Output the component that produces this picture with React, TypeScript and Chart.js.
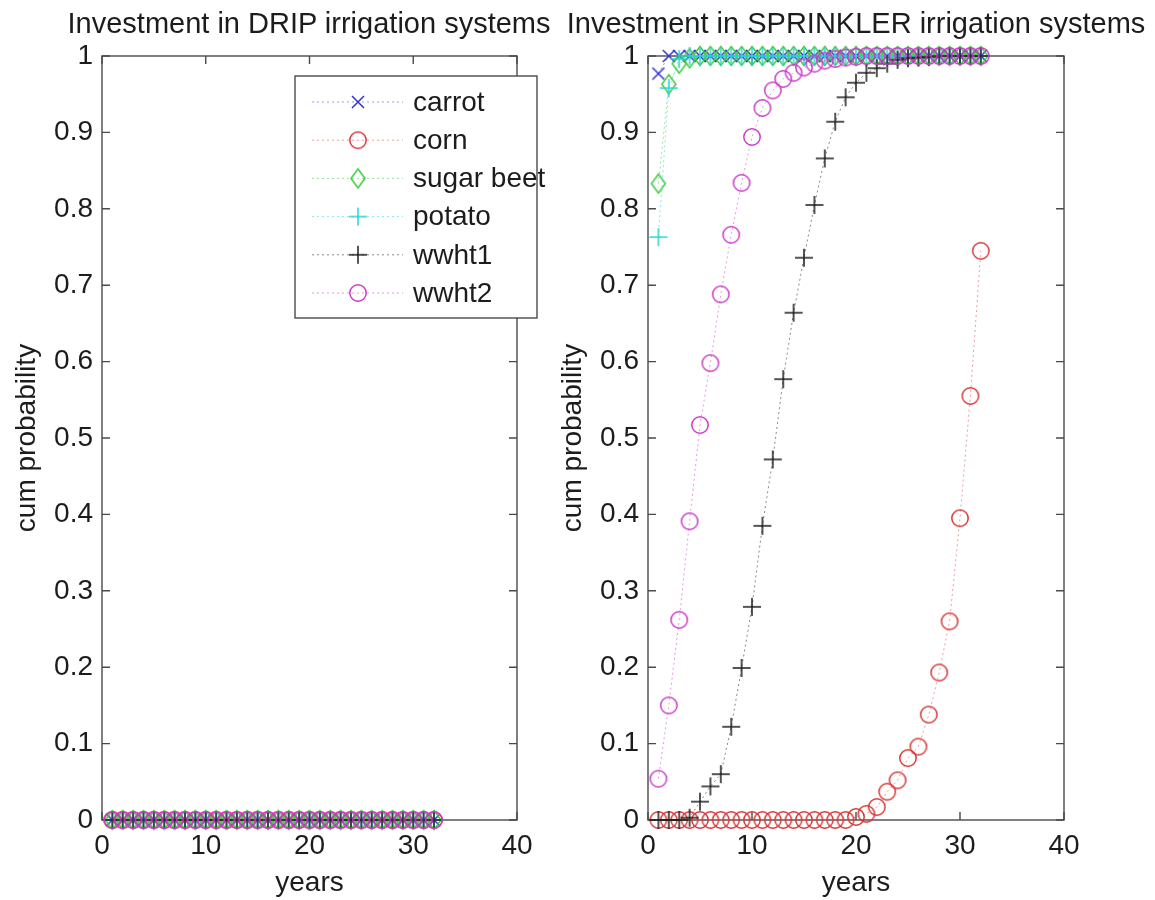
import React, { useEffect, useRef } from "react";
import { Chart, registerables } from "chart.js";

Chart.register(...registerables);

const FONT = "'Liberation Sans', Arial, Helvetica, sans-serif";

// ---------- data ----------
const years = [1, 2, 3, 4, 5, 6, 7, 8, 9, 10, 11, 12, 13, 14, 15, 16, 17, 18, 19, 20, 21, 22, 23, 24, 25, 26, 27, 28, 29, 30, 31, 32];

const seriesNames = ["carrot", "corn", "sugar beet", "potato", "wwht1", "wwht2"];

// DRIP: every crop stays at 0
const dripCarrot = [0, 0, 0, 0, 0, 0, 0, 0, 0, 0, 0, 0, 0, 0, 0, 0, 0, 0, 0, 0, 0, 0, 0, 0, 0, 0, 0, 0, 0, 0, 0, 0];
const dripCorn = [0, 0, 0, 0, 0, 0, 0, 0, 0, 0, 0, 0, 0, 0, 0, 0, 0, 0, 0, 0, 0, 0, 0, 0, 0, 0, 0, 0, 0, 0, 0, 0];
const dripSugarBeet = [0, 0, 0, 0, 0, 0, 0, 0, 0, 0, 0, 0, 0, 0, 0, 0, 0, 0, 0, 0, 0, 0, 0, 0, 0, 0, 0, 0, 0, 0, 0, 0];
const dripPotato = [0, 0, 0, 0, 0, 0, 0, 0, 0, 0, 0, 0, 0, 0, 0, 0, 0, 0, 0, 0, 0, 0, 0, 0, 0, 0, 0, 0, 0, 0, 0, 0];
const dripWwht1 = [0, 0, 0, 0, 0, 0, 0, 0, 0, 0, 0, 0, 0, 0, 0, 0, 0, 0, 0, 0, 0, 0, 0, 0, 0, 0, 0, 0, 0, 0, 0, 0];
const dripWwht2 = [0, 0, 0, 0, 0, 0, 0, 0, 0, 0, 0, 0, 0, 0, 0, 0, 0, 0, 0, 0, 0, 0, 0, 0, 0, 0, 0, 0, 0, 0, 0, 0];

// SPRINKLER
const sprinklerCarrot = [0.977, 1, 1, 1, 1, 1, 1, 1, 1, 1, 1, 1, 1, 1, 1, 1, 1, 1, 1, 1, 1, 1, 1, 1, 1, 1, 1, 1, 1, 1, 1, 1];
const sprinklerCorn = [0, 0, 0, 0, 0, 0, 0, 0, 0, 0, 0, 0, 0, 0, 0, 0, 0, 0, 0, 0.004, 0.008, 0.017, 0.037, 0.052, 0.081, 0.096, 0.138, 0.193, 0.26, 0.395, 0.555, 0.745];
const sprinklerSugarBeet = [0.833, 0.963, 0.99, 0.997, 1, 1, 1, 1, 1, 1, 1, 1, 1, 1, 1, 1, 1, 1, 1, 1, 1, 1, 1, 1, 1, 1, 1, 1, 1, 1, 1, 1];
const sprinklerPotato = [0.763, 0.958, 0.996, 1, 1, 1, 1, 1, 1, 1, 1, 1, 1, 1, 1, 1, 1, 1, 1, 1, 1, 1, 1, 1, 1, 1, 1, 1, 1, 1, 1, 1];
const sprinklerWwht1 = [0, 0, 0, 0.003, 0.024, 0.044, 0.06, 0.122, 0.199, 0.279, 0.385, 0.472, 0.577, 0.664, 0.736, 0.805, 0.866, 0.914, 0.946, 0.965, 0.978, 0.984, 0.99, 0.995, 0.997, 0.998, 0.999, 1, 1, 1, 1, 1];
const sprinklerWwht2 = [0.054, 0.15, 0.262, 0.391, 0.517, 0.598, 0.688, 0.766, 0.834, 0.894, 0.932, 0.955, 0.97, 0.978, 0.985, 0.99, 0.994, 0.996, 0.998, 0.999, 1, 1, 1, 1, 1, 1, 1, 1, 1, 1, 1, 1];

const dripSeries = [dripCarrot, dripCorn, dripSugarBeet, dripPotato, dripWwht1, dripWwht2];
const sprinklerSeries = [sprinklerCarrot, sprinklerCorn, sprinklerSugarBeet, sprinklerPotato, sprinklerWwht1, sprinklerWwht2];

const xTicks = [0, 10, 20, 30, 40];
const xTickLabels = ["0", "10", "20", "30", "40"];
const yTicks = [0, 0.1, 0.2, 0.3, 0.4, 0.5, 0.6, 0.7, 0.8, 0.9, 1];
const yTickLabels = ["0", "0.1", "0.2", "0.3", "0.4", "0.5", "0.6", "0.7", "0.8", "0.9", "1"];

const leftTitle = "Investment in DRIP irrigation systems";
const rightTitle = "Investment in SPRINKLER irrigation systems";
const xLabel = "years";
const yLabel = "cum probability";

// ---------- styles ----------
const markerColors = ["#3232d2", "#d83838", "#3ccc3c", "#2ad4d4", "#1e1e1e", "#cc3ccc"];
const lineColors = [
  "rgba(70,70,215,0.55)",
  "rgba(220,80,80,0.55)",
  "rgba(70,205,70,0.55)",
  "rgba(50,210,210,0.55)",
  "rgba(40,40,40,0.55)",
  "rgba(205,70,205,0.55)",
];
const markerKinds = ["x", "o", "d", "+", "+", "o"];

const AXIS_COLOR = "#4a4a4a";
const TEXT_COLOR = "#1c1c1c";
const TICK_FONT = 28;
const LABEL_FONT = 28;
const TITLE_FONT = 29;

function makeMarker(kind: string, color: string): HTMLCanvasElement {
  const c = document.createElement("canvas");
  c.width = 24;
  c.height = 24;
  const ctx = c.getContext("2d")!;
  const m = 12;
  ctx.strokeStyle = color;
  ctx.lineWidth = 1.5;
  ctx.beginPath();
  if (kind === "o") {
    ctx.arc(m, m, 8.2, 0, Math.PI * 2);
  } else if (kind === "x") {
    ctx.moveTo(m - 6, m - 6);
    ctx.lineTo(m + 6, m + 6);
    ctx.moveTo(m + 6, m - 6);
    ctx.lineTo(m - 6, m + 6);
  } else if (kind === "+") {
    ctx.moveTo(m - 9, m);
    ctx.lineTo(m + 9, m);
    ctx.moveTo(m, m - 9);
    ctx.lineTo(m, m + 9);
  } else if (kind === "d") {
    ctx.moveTo(m, m - 9.5);
    ctx.lineTo(m + 7, m);
    ctx.lineTo(m, m + 9.5);
    ctx.lineTo(m - 7, m);
    ctx.closePath();
  }
  ctx.stroke();
  return c;
}

const TICK_LEN = 8;

const boxPlugin = {
  id: "matlabBox",
  beforeDatasetsDraw(chart: any) {
    const { ctx, chartArea: a, scales } = chart;
    ctx.save();
    ctx.strokeStyle = AXIS_COLOR;
    ctx.lineWidth = 1.4;
    ctx.strokeRect(a.left, a.top, a.right - a.left, a.bottom - a.top);
    ctx.beginPath();
    for (const v of xTicks) {
      const px = scales.x.getPixelForValue(v);
      ctx.moveTo(px, a.bottom);
      ctx.lineTo(px, a.bottom - TICK_LEN);
      ctx.moveTo(px, a.top);
      ctx.lineTo(px, a.top + TICK_LEN);
    }
    for (const v of yTicks) {
      const py = scales.y.getPixelForValue(v);
      ctx.moveTo(a.left, py);
      ctx.lineTo(a.left + TICK_LEN, py);
      ctx.moveTo(a.right, py);
      ctx.lineTo(a.right - TICK_LEN, py);
    }
    ctx.stroke();
    ctx.restore();
  },
};

function makeLegendPlugin(markers: HTMLCanvasElement[]) {
  return {
    id: "matlabLegend",
    afterDraw(chart: any) {
      const { ctx } = chart;
      const bx = 295, by = 76, bw = 242, bh = 242;
      ctx.save();
      ctx.fillStyle = "#ffffff";
      ctx.fillRect(bx, by, bw, bh);
      ctx.strokeStyle = AXIS_COLOR;
      ctx.lineWidth = 1.4;
      ctx.strokeRect(bx, by, bw, bh);
      ctx.font = `${LABEL_FONT}px ${FONT}`;
      ctx.textBaseline = "middle";
      ctx.textAlign = "left";
      seriesNames.forEach((name, i) => {
        const cy = by + 26 + i * 38.2;
        ctx.strokeStyle = lineColors[i];
        ctx.lineWidth = 1;
        ctx.setLineDash([2, 3]);
        ctx.beginPath();
        ctx.moveTo(bx + 17, cy);
        ctx.lineTo(bx + 108, cy);
        ctx.stroke();
        ctx.setLineDash([]);
        const mk = markers[i];
        ctx.drawImage(mk, bx + 63 - mk.width / 2, cy - mk.height / 2);
        ctx.fillStyle = TEXT_COLOR;
        ctx.fillText(name, bx + 118, cy + 1);
      });
      ctx.restore();
    },
  };
}

function buildConfig(series: number[][], markers: HTMLCanvasElement[], padRight: number, extraPlugins: any[]) {
  const datasets = series.map((vals, i) => ({
    label: seriesNames[i],
    data: vals.map((v, j) => ({ x: years[j], y: v })),
    borderColor: lineColors[i],
    backgroundColor: lineColors[i],
    borderWidth: 1,
    borderDash: [2, 3],
    pointStyle: markers[i],
    pointRadius: 8,
    pointHoverRadius: 8,
    showLine: true,
    fill: false,
    tension: 0,
    clip: false,
    order: series.length - 1 - i,
  }));
  return {
    type: "line",
    data: { datasets },
    options: {
      responsive: false,
      animation: false,
      devicePixelRatio: 1,
      layout: { padding: { left: 0, right: padRight, top: 56, bottom: 0 } },
      plugins: {
        legend: { display: false },
        title: { display: false },
        tooltip: { enabled: false },
      },
      events: [],
      scales: {
        x: {
          type: "linear",
          min: 0,
          max: 40,
          afterBuildTicks: (s: any) => {
            s.ticks = xTicks.map((v) => ({ value: v }));
          },
          afterFit: (s: any) => {
            s.height = 80;
          },
          ticks: {
            padding: 9,
            color: TEXT_COLOR,
            font: { family: FONT, size: TICK_FONT },
            maxRotation: 0,
            callback: (_v: any, idx: number) => xTickLabels[idx],
          },
          grid: { display: false, drawTicks: false },
          border: { display: false },
          title: {
            display: true,
            text: xLabel,
            color: TEXT_COLOR,
            font: { family: FONT, size: LABEL_FONT },
            padding: { top: 0, bottom: 0 },
          },
        },
        y: {
          type: "linear",
          min: 0,
          max: 1,
          afterBuildTicks: (s: any) => {
            s.ticks = yTicks.map((v) => ({ value: v }));
          },
          afterFit: (s: any) => {
            s.width = 102;
          },
          ticks: {
            padding: 9,
            color: TEXT_COLOR,
            font: { family: FONT, size: TICK_FONT },
            callback: (_v: any, idx: number) => yTickLabels[idx],
          },
          grid: { display: false, drawTicks: false },
          border: { display: false },
          title: {
            display: true,
            text: yLabel,
            color: TEXT_COLOR,
            font: { family: FONT, size: LABEL_FONT },
            padding: { top: 10, bottom: 0 },
          },
        },
      },
    },
    plugins: [boxPlugin, ...extraPlugins],
  } as any;
}

export default function App() {
  const leftRef = useRef<HTMLCanvasElement>(null);
  const rightRef = useRef<HTMLCanvasElement>(null);

  useEffect(() => {
    const markers = markerKinds.map((k, i) => makeMarker(k, markerColors[i]));
    const left = new Chart(leftRef.current!, buildConfig(dripSeries, markers, 29, [makeLegendPlugin(markers)]));
    const right = new Chart(rightRef.current!, buildConfig(sprinklerSeries, markers, 91, []));
    return () => {
      left.destroy();
      right.destroy();
    };
  }, []);

  const titleStyle = (center: number): React.CSSProperties => ({
    position: "absolute",
    left: center - 320,
    width: 640,
    top: 9,
    textAlign: "center",
    fontFamily: FONT,
    fontSize: TITLE_FONT,
    lineHeight: `${TITLE_FONT}px`,
    color: TEXT_COLOR,
    whiteSpace: "nowrap",
    pointerEvents: "none",
  });

  return (
    <div style={{ position: "absolute", left: 0, top: 0, width: 1155, height: 900, background: "#ffffff", overflow: "hidden" }}>
      <canvas ref={leftRef} width={546} height={900} style={{ position: "absolute", left: 0, top: 0 }} />
      <canvas ref={rightRef} width={609} height={900} style={{ position: "absolute", left: 546, top: 0 }} />
      <div style={titleStyle(309)}>{leftTitle}</div>
      <div style={titleStyle(856)}>{rightTitle}</div>
    </div>
  );
}
